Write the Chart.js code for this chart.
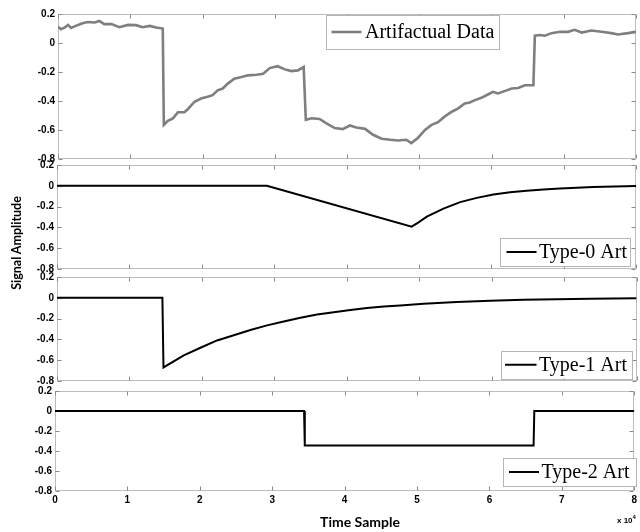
<!DOCTYPE html>
<html><head><meta charset="utf-8">
<script src="https://cdn.jsdelivr.net/npm/chart.js@4/dist/chart.umd.min.js"></script>
<style>
html,body{margin:0;padding:0;background:#fff;}
#wrap{position:relative;width:640px;height:532px;overflow:hidden;background:#fff;}
canvas{position:absolute;left:0;}
.lbl{position:absolute;font-family:Lato,"Liberation Sans",sans-serif;font-weight:bold;color:#000;white-space:nowrap;line-height:1;}
#ylab{left:-83px;top:236px;width:200px;height:14px;line-height:14px;text-align:center;font-size:12.5px;transform:rotate(-90deg);transform-origin:100px 7px;}
#xlab{left:260px;top:514px;width:200px;height:16px;line-height:16px;text-align:center;font-size:14px;}
#mult{left:617px;top:514px;font-size:8px;font-family:"Liberation Sans",sans-serif;}
#mult sup{font-size:6px;vertical-align:4px;}
</style></head><body>
<div id="wrap">
<canvas id="c1"></canvas>
<canvas id="c2"></canvas>
<canvas id="c3"></canvas>
<canvas id="c4"></canvas>
<div class="lbl" id="ylab">Signal Amplitude</div>
<div class="lbl" id="xlab">Time Sample</div>
<div class="lbl" id="mult">x 10<sup>4</sup></div>
</div>
<script>
// ---- data (x in units of 10^4 samples) ----
const xTicks = [0, 1, 2, 3, 4, 5, 6, 7, 8];
const yTicks = [0.2, 0, -0.2, -0.4, -0.6, -0.8];
const seriesLabels = ['Artifactual Data', 'Type-0 Art', 'Type-1 Art', 'Type-2 Art'];

const artX = [0,0.04,0.09,0.14,0.18,0.27,0.34,0.41,0.51,0.57,0.64,0.74,0.85,0.97,1.08,1.17,1.27,1.36,1.45,1.465,1.52,1.59,1.66,1.75,1.80,1.89,1.98,2.07,2.14,2.21,2.28,2.35,2.44,2.54,2.63,2.75,2.84,2.93,3.04,3.14,3.23,3.32,3.40,3.43,3.51,3.62,3.71,3.83,3.94,4.04,4.13,4.25,4.36,4.48,4.60,4.71,4.82,4.89,4.98,5.08,5.17,5.26,5.35,5.45,5.54,5.63,5.70,5.77,5.86,5.95,6.02,6.09,6.18,6.28,6.37,6.46,6.58,6.60,6.67,6.74,6.83,6.95,7.06,7.15,7.25,7.38,7.52,7.66,7.75,7.89,8.0];
const artY = [0.113,0.095,0.106,0.125,0.104,0.123,0.136,0.145,0.141,0.152,0.13,0.13,0.109,0.125,0.123,0.109,0.118,0.107,0.10,-0.565,-0.537,-0.52,-0.478,-0.478,-0.455,-0.405,-0.383,-0.371,-0.36,-0.326,-0.314,-0.28,-0.246,-0.235,-0.223,-0.219,-0.212,-0.173,-0.16,-0.182,-0.194,-0.189,-0.166,-0.53,-0.519,-0.524,-0.553,-0.587,-0.594,-0.569,-0.583,-0.592,-0.633,-0.66,-0.667,-0.672,-0.667,-0.69,-0.655,-0.599,-0.565,-0.546,-0.508,-0.474,-0.451,-0.417,-0.41,-0.394,-0.378,-0.355,-0.337,-0.348,-0.332,-0.314,-0.31,-0.291,-0.291,0.05,0.055,0.05,0.068,0.077,0.077,0.091,0.072,0.086,0.077,0.068,0.059,0.068,0.077];

const t0X = [0, 2.90, 4.90, 4.99, 5.11, 5.34, 5.57, 5.80, 6.03, 6.26, 6.49, 6.72, 6.95, 7.41, 8.0];
const t0Y = [0, 0, -0.393, -0.354, -0.297, -0.22, -0.157, -0.116, -0.083, -0.063, -0.047, -0.035, -0.025, -0.012, -0.003];

const t1X = [0, 1.455, 1.47, 1.75, 1.98, 2.21, 2.44, 2.67, 2.90, 3.13, 3.36, 3.59, 3.82, 4.05, 4.28, 4.51, 4.74, 5.06, 5.52, 5.98, 6.44, 6.90, 7.36, 8.0];
const t1Y = [0, 0, -0.67, -0.554, -0.48, -0.41, -0.36, -0.31, -0.265, -0.227, -0.192, -0.16, -0.139, -0.117, -0.098, -0.083, -0.073, -0.057, -0.041, -0.028, -0.019, -0.013, -0.01, -0.005];

const t2X = [0, 3.44, 3.45, 6.61, 6.62, 8.0];
const t2Y = [0, 0, -0.345, -0.345, 0, 0];

// ---- layout / style ----
const panels = [
  {id:'c1', xs:artX, ys:artY, label:seriesLabels[0], color:'#7f7f7f', lw:2.6, L:58, R:636, T:13, B:159.5, showX:false,
   leg:{x:326, y:15, w:173, h:34, lx0:331.5, lx1:361.5, tx:365}},
  {id:'c2', xs:t0X, ys:t0Y, label:seriesLabels[1], color:'#000000', lw:2, L:57, R:636, T:164, B:270, showX:false,
   leg:{x:500, y:238, w:130, h:28, lx0:506.5, lx1:536.5, tx:539}},
  {id:'c3', xs:t1X, ys:t1Y, label:seriesLabels[2], color:'#000000', lw:2, L:57, R:636.5, T:276, B:382, showX:false,
   leg:{x:500.5, y:351, w:131, h:27.5, lx0:505, lx1:536.5, tx:539}},
  {id:'c4', xs:t2X, ys:t2Y, label:seriesLabels[3], color:'#000000', lw:2, L:55, R:637, T:390, B:491, showX:true,
   leg:{x:503, y:458, w:133, h:28, lx0:509, lx1:539, tx:541.5}}
];

const PADT = 8;
const tickFont = {family:'"Liberation Sans", Arial, sans-serif', size:10, weight:'bold'};

const framePlugin = {
  id:'frame',
  beforeDatasetsDraw(chart){
    const {ctx, chartArea:a} = chart;
    const xs = chart.scales.x, ys = chart.scales.y;
    ctx.save();
    ctx.strokeStyle = '#bdbdbd';
    ctx.lineWidth = 1;
    const l = Math.round(a.left)+0.5, r = Math.round(a.right)-0.5, t = Math.round(a.top)+0.5, b = Math.round(a.bottom)-0.5;
    ctx.strokeRect(l, t, r-l, b-t);
    ctx.strokeStyle = '#8a8a8a';
    ctx.beginPath();
    xTicks.forEach(v=>{
      const p = Math.round(xs.getPixelForValue(v))+0.5;
      ctx.moveTo(p, t); ctx.lineTo(p, t+4);
      ctx.moveTo(p, b); ctx.lineTo(p, b-4);
    });
    yTicks.forEach(v=>{
      const p = Math.round(ys.getPixelForValue(v))+0.5;
      ctx.moveTo(l, p); ctx.lineTo(l+4, p);
      ctx.moveTo(r, p); ctx.lineTo(r-4, p);
    });
    ctx.stroke();
    ctx.restore();
  }
};

const legendPlugin = {
  id:'boxLegend',
  afterDraw(chart, args, opts){
    const g = opts.box; if(!g) return;
    const off = opts.offset;
    const ds = chart.data.datasets[0];
    const ctx = chart.ctx;
    ctx.save();
    const y0 = g.y - off;
    ctx.fillStyle = '#ffffff';
    ctx.fillRect(g.x, y0, g.w, g.h);
    ctx.strokeStyle = '#b5b5b5';
    ctx.lineWidth = 1;
    ctx.strokeRect(Math.round(g.x)+0.5, Math.round(y0)+0.5, Math.round(g.w), Math.round(g.h));
    const ly = y0 + g.h/2;
    ctx.strokeStyle = ds.borderColor;
    ctx.lineWidth = ds.borderWidth;
    ctx.beginPath(); ctx.moveTo(g.lx0, ly); ctx.lineTo(g.lx1, ly); ctx.stroke();
    ctx.fillStyle = '#000';
    ctx.font = '20px "Liberation Serif", "Times New Roman", serif';
    ctx.textBaseline = 'middle';
    ctx.fillText(ds.label, g.tx, ly + 1);
    ctx.restore();
  }
};

panels.forEach(p=>{
  const cv = document.getElementById(p.id);
  const top = p.T - PADT;
  const xAxisH = p.showX ? 20 : 0;
  const bottomPad = p.showX ? 0 : 8;
  const h = Math.ceil(p.B - top + xAxisH + bottomPad);
  cv.width = 640; cv.height = h;
  cv.style.top = top + 'px';
  const realBottomPad = h - (p.B - top) - xAxisH;
  new Chart(cv, {
    type:'line',
    data:{datasets:[{
      label:p.label,
      data:p.xs.map((x,i)=>({x:x, y:p.ys[i]})),
      borderColor:p.color, borderWidth:p.lw,
      pointRadius:0, tension:0, fill:false
    }]},
    options:{
      responsive:false, animation:false, devicePixelRatio:1,
      layout:{padding:{top:PADT, left:0, right:640-p.R, bottom:realBottomPad}},
      plugins:{legend:{display:false}, tooltip:{enabled:false},
        boxLegend:{box:p.leg, offset:top}},
      scales:{
        x:{type:'linear', min:0, max:8, display:p.showX,
           afterBuildTicks(s){ s.ticks = xTicks.map(v=>({value:v})); },
           afterFit(s){ if(p.showX) s.height = xAxisH; },
           grid:{display:false, drawTicks:false}, border:{display:false},
           ticks:{font:tickFont, color:'#000', padding:3, maxRotation:0, autoSkip:false,
                  callback:v=>String(v)}},
        y:{type:'linear', min:-0.8, max:0.2,
           afterBuildTicks(s){ s.ticks = yTicks.map(v=>({value:v})); },
           afterFit(s){ s.width = p.L; },
           grid:{display:false, drawTicks:false}, border:{display:false},
           ticks:{font:tickFont, color:'#000', padding:3, autoSkip:false,
                  callback:v=>String(Number(v.toFixed(1)))}}
      }
    },
    plugins:[framePlugin, legendPlugin]
  });
});
</script>
</body></html>
